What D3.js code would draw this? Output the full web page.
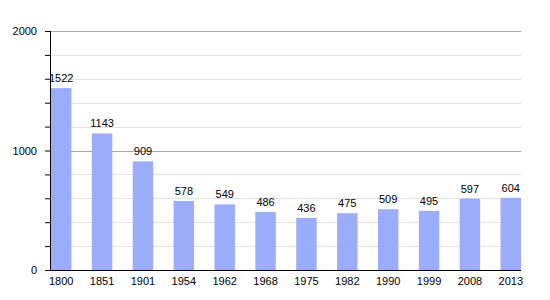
<!DOCTYPE html>
<html>
<head>
<style>
  body { margin: 0; background: #fff; }
  svg text { font-family: "Liberation Sans", Arial, sans-serif; font-size: 11px; fill: #000; }
</style>
<script src="https://cdnjs.cloudflare.com/ajax/libs/d3/7.8.5/d3.min.js"></script>
</head>
<body>
<svg id="chart" width="550" height="300"></svg>
<script>
var years = ["1800", "1851", "1901", "1954", "1962", "1968", "1975", "1982", "1990", "1999", "2008", "2013"];
var population = [1522, 1143, 909, 578, 549, 486, 436, 475, 509, 495, 597, 604];
var yTicks = [0, 1000, 2000];
var yMinor = [200, 400, 600, 800, 1200, 1400, 1600, 1800];

var svg = d3.select("#chart");
var plotLeft = 50, plotRight = 521, plotTop = 31, plotBottom = 270;

var x = d3.scaleBand().domain(years).range([plotLeft + 1, plotRight]).paddingInner(0.5).paddingOuter(0);
var y = d3.scaleLinear().domain([0, 2000]).range([plotBottom, plotTop]);

// grid
svg.selectAll(".minor").data(yMinor).enter().append("line")
    .attr("x1", plotLeft).attr("x2", plotRight)
    .attr("y1", d => Math.round(y(d)) + 0.5).attr("y2", d => Math.round(y(d)) + 0.5)
    .style("stroke", "#e2e2e2");
svg.selectAll(".major").data(yTicks.slice(1)).enter().append("line")
    .attr("x1", plotLeft).attr("x2", plotRight)
    .attr("y1", d => Math.round(y(d)) + 0.5).attr("y2", d => Math.round(y(d)) + 0.5)
    .style("stroke", "#a8a8a8");

// bars
svg.selectAll("rect").data(population).enter().append("rect")
    .attr("x", (d, i) => x(years[i]))
    .attr("width", x.bandwidth())
    .attr("y", d => y(d))
    .attr("height", d => plotBottom - y(d))
    .style("fill", "#9badfa");

// value labels
svg.selectAll(".val").data(population).enter().append("text")
    .attr("x", (d, i) => x(years[i]) + x.bandwidth() / 2)
    .attr("y", d => y(d) - 6)
    .attr("text-anchor", "middle")
    .text(d => d);

// axes
var yAxis = d3.axisLeft(y).tickValues(yTicks.concat(yMinor)).tickSize(5)
    .tickFormat(d => yTicks.indexOf(d) >= 0 ? d : "");
var gy = svg.append("g").attr("transform", "translate(" + plotLeft + ",0)").call(yAxis);
gy.select(".domain").remove();
gy.selectAll("line").style("stroke", "#000");
gy.selectAll("text").attr("x", -13).style("font-size", "11px").style("font-family", null);
svg.append("line").attr("x1", plotLeft + 0.5).attr("x2", plotLeft + 0.5).attr("y1", plotTop).attr("y2", plotBottom)
    .style("stroke", "#000");

var xAxis = d3.axisBottom(x).tickSize(0).tickPadding(7);
var gx = svg.append("g").attr("transform", "translate(0," + plotBottom + ")").call(xAxis);
gx.select(".domain").remove();
gx.selectAll("text").style("font-size", "11px").style("font-family", null);
svg.append("line").attr("x1", plotLeft).attr("x2", plotRight).attr("y1", plotBottom + 0.5).attr("y2", plotBottom + 0.5)
    .style("stroke", "#000");
</script>
</body>
</html>
